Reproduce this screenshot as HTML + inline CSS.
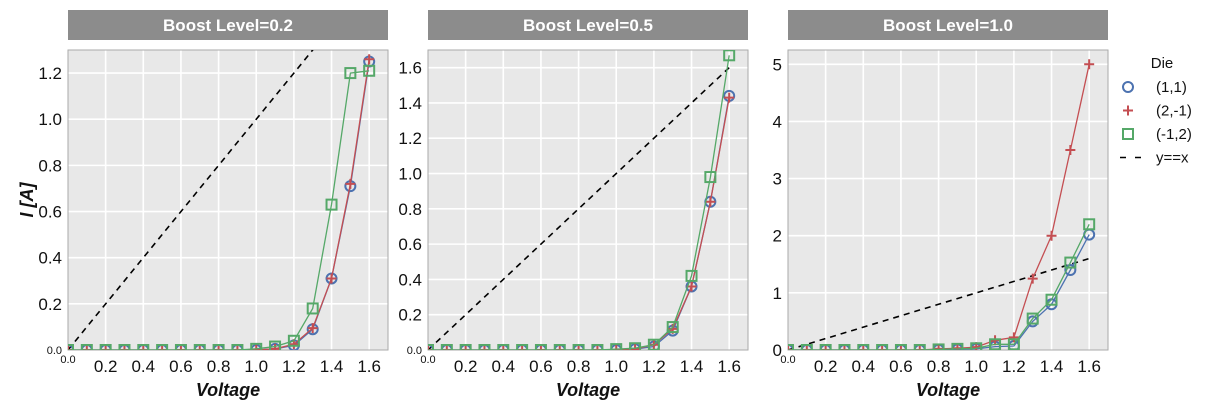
<!DOCTYPE html>
<html><head><meta charset="utf-8"><style>
body{margin:0;background:#fff;}
svg text{font-family:"Liberation Sans",sans-serif;}
</style></head><body>
<svg id="chart" width="1226" height="411"></svg>
<script>
const voltages=[0,0.1,0.2,0.3,0.4,0.5,0.6,0.7,0.8,0.9,1.0,1.1,1.2,1.3,1.4,1.5,1.6];
const panelTitles=["Boost Level=0.2","Boost Level=0.5","Boost Level=1.0"];
const yMaxes=[1.3,1.7,5.25];
const yTicks0=[0.2,0.4,0.6,0.8,1.0,1.2];
const yTicks1=[0.2,0.4,0.6,0.8,1.0,1.2,1.4,1.6];
const yTicks2=[1,2,3,4,5];
const xTicks=[0.2,0.4,0.6,0.8,1.0,1.2,1.4,1.6];
const die11_p0=[0,0,0,0,0,0,0,0,0,0,0,0.005,0.02,0.09,0.31,0.71,1.25];
const die2m1_p0=[0,0,0,0,0,0,0,0,0,0,0,0.005,0.025,0.095,0.31,0.72,1.26];
const diem12_p0=[0,0,0,0,0,0,0,0,0,0,0.005,0.015,0.04,0.18,0.63,1.2,1.21];
const die11_p1=[0,0,0,0,0,0,0,0,0,0,0,0.005,0.02,0.11,0.36,0.84,1.44];
const die2m1_p1=[0,0,0,0,0,0,0,0,0,0,0,0.005,0.03,0.12,0.36,0.84,1.43];
const diem12_p1=[0,0,0,0,0,0,0,0,0,0,0.005,0.01,0.03,0.13,0.42,0.98,1.67];
const die11_p2=[0,0,0,0,0,0,0,0,0.005,0.01,0.02,0.06,0.07,0.5,0.8,1.4,2.02];
const die2m1_p2=[0,0,0,0,0,0,0,0,0.02,0.03,0.05,0.17,0.22,1.25,2.0,3.5,5.0];
const diem12_p2=[0,0,0,0,0,0,0,0,0.01,0.02,0.03,0.1,0.1,0.55,0.88,1.53,2.2];
const yTickSets=[yTicks0,yTicks1,yTicks2];
const series=[[die11_p0,die2m1_p0,diem12_p0],[die11_p1,die2m1_p1,diem12_p1],[die11_p2,die2m1_p2,diem12_p2]];
const colors=["#4c72b0","#c44e52","#55a868"];
const NS="http://www.w3.org/2000/svg";
const svg=document.getElementById('chart');
function mk(tag,attrs,parent,txt){const e=document.createElementNS(NS,tag);for(const k in attrs)e.setAttribute(k,attrs[k]);if(txt!==undefined)e.textContent=txt;(parent||svg).appendChild(e);return e;}
const lefts=[68,428,788],W=320,top0=50,H=300,xMax=1.7;
for(let p=0;p<3;p++){
  const L=lefts[p];
  const xs=v=>L+v/xMax*W;
  const ys=v=>top0+H-v/yMaxes[p]*H;
  const g=mk('g',{});
  
  
  const tb=mk('rect',{x:L,y:10,width:W,height:30,fill:'#8c8c8c'},g);
  
  
  const tt=mk('text',{x:L+W/2,y:31,'text-anchor':'middle','font-size':17,'font-weight':'bold',fill:'#fff'},g,panelTitles[p]);
  
  
  const bg=mk('rect',{x:L,y:top0,width:W,height:H,fill:'#e8e8e8'},g);
  
  
  const clipId='c'+p;
  const cp=mk('clipPath',{id:clipId},g);mk('rect',{x:L,y:top0,width:W,height:H},cp);
  xTicks.forEach(t=>{
    const gl=mk('line',{x1:xs(t),x2:xs(t),y1:top0,y2:top0+H,stroke:'#fff','stroke-width':1.6},g);
    
    
    const tl=mk('text',{x:xs(t),y:372,'text-anchor':'middle','font-size':17,fill:'#111'},g,t.toFixed(1));
    
    
  });
  yTickSets[p].forEach(t=>{
    const gl=mk('line',{x1:L,x2:L+W,y1:ys(t),y2:ys(t),stroke:'#fff','stroke-width':1.6},g);
    
    
    const tl=mk('text',{x:L-6,y:ys(t)+6,'text-anchor':'end','font-size':17,fill:'#111'},g,p==2?String(t):t.toFixed(1));
    
    
  });
  const z1=mk('text',{x:L-6,y:p==2?356:354,'text-anchor':'end','font-size':p==2?17:11,fill:'#111'},g,p==2?'0':'0.0');
  
  
  const z2=mk('text',{x:L,y:363,'text-anchor':'middle','font-size':11,fill:'#111'},g,'0.0');
  
  
  const bd=mk('rect',{x:L,y:top0,width:W,height:H,fill:'none',stroke:'#aaa','stroke-width':1},g);
  
  
  const xl=mk('text',{x:L+W/2,y:396,'text-anchor':'middle','font-size':18,'font-weight':'bold','font-style':'italic',fill:'#111'},g,'Voltage');
  
  
  const dg=mk('g',{'clip-path':'url(#'+clipId+')'},g);
  const ref=mk('line',{x1:xs(0),y1:ys(0),x2:xs(1.6),y2:ys(1.6),stroke:'#000','stroke-width':1.6,'stroke-dasharray':'6,5'},dg);
  
  
  series[p].forEach((arr,si)=>{
    const c=colors[si];
    const pts=arr.map((v,i)=>xs(voltages[i]).toFixed(1)+','+ys(v).toFixed(1)).join(' ');
    const pl=mk('polyline',{points:pts,fill:'none',stroke:c,'stroke-width':1.3},dg);
    
    
    arr.forEach((v,i)=>{
      const x=xs(voltages[i]),y=ys(v);let m;
      if(si==0)m=mk('circle',{cx:x,cy:y,r:5,fill:'none',stroke:c,'stroke-width':2},dg);
      else if(si==1)m=mk('path',{d:`M${x-5},${y}H${x+5}M${x},${y-5}V${y+5}`,stroke:c,'stroke-width':2,fill:'none'},dg);
      else m=mk('rect',{x:x-5,y:y-5,width:10,height:10,fill:'none',stroke:c,'stroke-width':2},dg);
      
      
    });
  });
}
const yl=mk('text',{x:0,y:0,transform:'translate(33,200) rotate(-90)','text-anchor':'middle','font-size':18,'font-weight':'bold','font-style':'italic',fill:'#111'},svg,'I [A]');


const lg=mk('g',{});


const lt=mk('text',{x:1162,y:68,'text-anchor':'middle','font-size':15,fill:'#111'},lg,'Die');


const labels=['(1,1)','(2,-1)','(-1,2)','y==x'];
labels.forEach((lab,i)=>{
  const y=87+i*23.5,x=1128;
  let m;
  if(i==0)m=mk('circle',{cx:x,cy:y,r:5,fill:'none',stroke:colors[0],'stroke-width':2},lg);
  else if(i==1)m=mk('path',{d:`M${x-5},${y}H${x+5}M${x},${y-5}V${y+5}`,stroke:colors[1],'stroke-width':2},lg);
  else if(i==2)m=mk('rect',{x:x-5,y:y-5,width:10,height:10,fill:'none',stroke:colors[2],'stroke-width':2},lg);
  else m=mk('line',{x1:1120,x2:1146,y1:y,y2:y,stroke:'#000','stroke-width':1.6,'stroke-dasharray':'6,9'},lg);
  
  
  const t=mk('text',{x:1156,y:y+5,'font-size':15,fill:'#111'},lg,lab);
  
  
});
</script>
</body></html>
